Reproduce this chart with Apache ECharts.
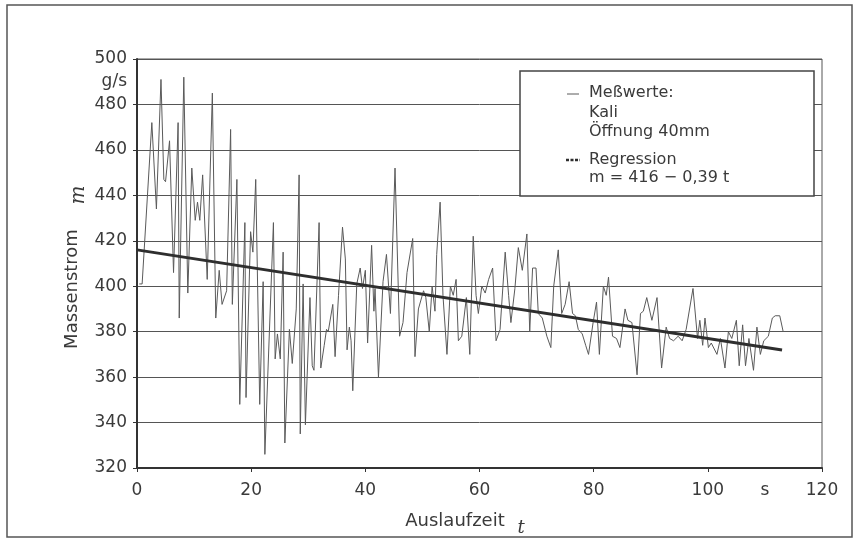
<!DOCTYPE html>
<html>
<head>
<meta charset="utf-8">
<script src="https://cdn.jsdelivr.net/npm/echarts@6/dist/echarts.min.js"></script>
<style>
  html, body { margin: 0; padding: 0; background: #fff; }
  #chart { width: 859px; height: 543px; }
</style>
</head>
<body>
<div id="chart"></div>
<script>
// Outflow time t in s and measured mass flow in g/s (potash, 40 mm opening)
const timeS = [
  0.4, 0.9, 2.6, 3.4, 4.2, 4.7, 5.0, 5.7, 6.4, 7.2, 7.4, 8.2, 8.9, 9.6, 10.2, 10.6, 11.0, 11.5, 12.3, 13.2,
  13.8, 14.4, 14.9, 15.7, 16.4, 16.7, 17.5, 18.0, 18.9, 19.1, 19.9, 20.3, 20.8, 21.5, 22.1, 22.4, 23.9, 24.2,
  24.6, 25.1, 25.6, 25.9, 26.7, 27.2, 27.9, 28.4, 28.6, 29.1, 29.5, 30.3, 30.7, 31.0, 31.9, 32.2, 32.8, 33.2,
  33.5, 34.3, 34.7, 35.3, 36.0, 36.5, 36.8, 37.2, 37.5, 37.8, 38.5, 39.1, 39.5, 40.0, 40.4, 41.1, 41.5, 41.7,
  42.3, 43.1, 43.7, 44.4, 45.2, 46.0, 46.6, 47.3, 47.6, 48.3, 48.7, 49.3, 50.2, 50.6, 51.2, 51.7, 52.2, 52.5,
  53.1, 53.6, 54.3, 54.9, 55.4, 55.9, 56.3, 56.9, 57.7, 58.3, 58.9, 59.4, 59.8, 60.4, 61.0, 61.6, 62.3, 62.9,
  63.6, 64.5, 65.1, 65.5, 66.2, 66.8, 67.5, 68.3, 68.8, 69.3, 69.9, 70.3, 71.0, 71.8, 72.5, 73.0, 73.8, 74.4,
  75.0, 75.7, 76.3, 76.8, 77.3, 78.0, 78.6, 79.1, 79.9, 80.5, 81.0, 81.7, 82.2, 82.6, 83.3, 84.0, 84.6, 85.5,
  86.0, 86.7, 87.6, 88.2, 88.7, 89.3, 90.2, 91.1, 91.9, 92.7, 93.3, 94.0, 94.8, 95.5, 96.2, 97.4, 98.2, 98.6,
  99.1, 99.5, 100.1, 100.6, 101.6, 102.2, 103.0, 103.6, 104.2, 105.0, 105.5, 106.1, 106.6, 107.2, 108.0, 108.6,
  109.2, 109.8, 110.6, 111.3, 111.8, 112.6, 113.2
];
const massFlow = [
  401, 401, 472, 434, 491, 447, 446, 464, 406, 472, 386, 492, 397, 452, 429, 437, 429, 449, 403, 485,
  386, 407, 392, 398, 469, 392, 447, 348, 428, 351, 424, 415, 447, 348, 402, 326, 428, 368,
  379, 368, 415, 331, 381, 366, 390, 449, 335, 401, 339, 395, 365, 363, 428, 364, 374, 381,
  380, 392, 369, 396, 426, 412, 372, 382, 376, 354, 401, 408, 399, 407, 375, 418, 389, 399,
  360, 402, 414, 388, 452, 378, 384, 406, 406, 421, 369, 390, 398, 395, 380, 400, 389, 414,
  437, 396, 370, 400, 396, 403, 376, 378, 395, 370, 422, 396, 388, 400, 397, 403, 408, 376,
  381, 415, 396, 384, 399, 417, 407, 423, 380, 408, 408, 388, 386, 378, 373, 400, 416, 388,
  392, 402, 388, 387, 381, 379, 374, 370, 384, 393, 370, 400, 396, 404, 378, 377, 373, 390,
  385, 384, 361, 388, 389, 395, 385, 395, 364, 382, 377, 376, 378, 376, 381, 399, 377, 385,
  374, 386, 373, 375, 370, 377, 364, 380, 377, 385, 365, 383, 365, 377, 363, 382,
  370, 376, 378, 386, 387, 387, 380
];

// Linear regression m = 416 - 0,39 t over the measuring period
const regIntercept = 416;
const regSlope = -0.39;
const regRange = [0, 113];

// Axis ticks and units
const xTicks = [0, 20, 40, 60, 80, 100, 120];
const yTicks = [320, 340, 360, 380, 400, 420, 440, 460, 480, 500];
const xUnit = { at: 110, text: 's' };
const yUnit = { at: 490, text: 'g/s' };

// Legend text
const legendMeasured = ['Meßwerte:', 'Kali', 'Öffnung 40mm'];
const legendRegression = ['Regression', 'm = ' + regIntercept + ' − ' + String(-regSlope).replace('.', ',') + ' t'];

const FONT = 'DejaVu Sans';
const TXT = '#3a3a3a';

const measured = timeS.map((t, i) => [t, massFlow[i]]);
const regression = regRange.map(t => [t, regIntercept + regSlope * t]);

const chart = echarts.init(document.getElementById('chart'), null, { renderer: 'canvas' });

const unitAxisLabel = (unit) => ({
  show: true,
  fontFamily: FONT, fontSize: 17, color: TXT,
  formatter: v => (Math.abs(v - unit.at) < 1e-6 ? unit.text : '')
});

chart.setOption({
  backgroundColor: '#fff',
  animation: false,
  grid: {
    left: 137, right: 37, top: 59, bottom: 75,
    show: true, borderColor: '#555', borderWidth: 1
  },
  xAxis: [
    {
      type: 'value',
      min: xTicks[0], max: xTicks[xTicks.length - 1], interval: xTicks[1] - xTicks[0],
      axisLine: { show: true, lineStyle: { color: '#333', width: 2 } },
      axisTick: { show: true, length: 4, lineStyle: { color: '#333' } },
      axisLabel: { margin: 14, fontFamily: FONT, fontSize: 17, color: TXT },
      splitLine: { show: false }
    },
    {
      type: 'value', position: 'bottom',
      min: xTicks[0], max: xTicks[xTicks.length - 1], interval: 10,
      axisLine: { show: false }, axisTick: { show: false }, splitLine: { show: false },
      axisLabel: Object.assign({ margin: 14 }, unitAxisLabel(xUnit))
    }
  ],
  yAxis: [
    {
      type: 'value',
      min: yTicks[0], max: yTicks[yTicks.length - 1], interval: yTicks[1] - yTicks[0],
      axisLine: { show: true, lineStyle: { color: '#333', width: 2 } },
      axisTick: { show: true, length: 4, lineStyle: { color: '#333' } },
      axisLabel: { margin: 10, fontFamily: FONT, fontSize: 17, color: TXT },
      splitLine: { show: true, lineStyle: { color: '#555', width: 1 } }
    },
    {
      type: 'value', position: 'left',
      min: yTicks[0], max: yTicks[yTicks.length - 1], interval: 10,
      axisLine: { show: false }, axisTick: { show: false }, splitLine: { show: false },
      axisLabel: Object.assign({ margin: 10 }, unitAxisLabel(yUnit))
    }
  ],
  series: [
    {
      name: 'Meßwerte', type: 'line', data: measured,
      showSymbol: false, symbol: 'none',
      lineStyle: { color: '#5a5a5a', width: 1 },
      z: 3
    },
    {
      name: 'Regression', type: 'line', data: regression,
      showSymbol: false, symbol: 'none',
      lineStyle: { color: '#2e2e2e', width: 3 },
      z: 4
    }
  ],
  graphic: [
    // outer frame
    { type: 'rect', shape: { x: 7, y: 5, width: 845, height: 532 },
      style: { fill: 'none', stroke: '#555', lineWidth: 1.5 }, z: 10 },
    // axis titles
    { type: 'text', x: 455, y: 521,
      style: { text: 'Auslaufzeit', font: '18px "DejaVu Sans"', fill: TXT, align: 'center', verticalAlign: 'middle' } },
    { type: 'text', x: 521, y: 528,
      style: { text: 't', font: 'italic 18px "DejaVu Serif"', fill: TXT, align: 'center', verticalAlign: 'middle' } },
    { type: 'text', x: 72, y: 289, rotation: Math.PI / 2,
      style: { text: 'Massenstrom', font: '18px "DejaVu Sans"', fill: TXT, align: 'center', verticalAlign: 'middle' } },
    { type: 'text', x: 79, y: 195, rotation: Math.PI / 2,
      style: { text: 'm', font: 'italic 20px "DejaVu Serif"', fill: TXT, align: 'center', verticalAlign: 'middle' } },
    // legend box
    { type: 'rect', shape: { x: 520, y: 71, width: 294, height: 125 },
      style: { fill: '#fff', stroke: '#444', lineWidth: 1.5 }, z: 20 },
    { type: 'line', shape: { x1: 567, y1: 94, x2: 579, y2: 94 },
      style: { stroke: '#5a5a5a', lineWidth: 1 }, z: 21 },
    { type: 'line', shape: { x1: 566, y1: 160, x2: 580, y2: 160 },
      style: { stroke: '#2e2e2e', lineWidth: 2.5, lineDash: [3, 1.5] }, z: 21 },
    ...legendMeasured.map((s, i) => ({
      type: 'text', x: 589, y: 93 + i * 19.5, z: 21,
      style: { text: s, font: '16px "DejaVu Sans"', fill: TXT, verticalAlign: 'middle' }
    })),
    ...legendRegression.map((s, i) => ({
      type: 'text', x: 589, y: 160 + i * 17.5, z: 21,
      style: { text: s, font: '16px "DejaVu Sans"', fill: TXT, verticalAlign: 'middle' }
    }))
  ]
});
</script>
</body>
</html>
